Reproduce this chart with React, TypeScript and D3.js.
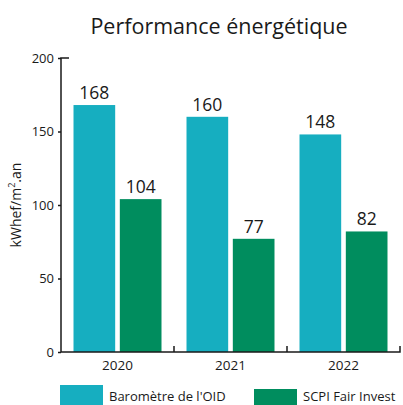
import * as React from 'react';
import { useEffect, useRef } from 'react';
import * as d3 from 'd3';

const years = ['2020', '2021', '2022'];
const oidValues = [168, 160, 148];
const fairInvestValues = [104, 77, 82];
const seriesNames = ["Baromètre de l'OID", 'SCPI Fair Invest'];
const yTicks = [0, 50, 100, 150, 200];

const TEAL = '#16AEC0';
const GREEN = '#008D5E';

const App: React.FC = () => {
  const svgRef = useRef<SVGSVGElement>(null);
  const width = 403;
  const height = 405;

  useEffect(() => {
    if (!svgRef.current) return;
    const svg = d3.select(svgRef.current);
    svg.selectAll('*').remove();

    const left = 61;
    const right = 400;
    const top = 58;
    const bottom = 352;

    const x = d3.scaleBand<string>().domain(years).range([left, right]).paddingInner(0).paddingOuter(0);
    const sub = d3.scaleBand<string>().domain(seriesNames).range([0, x.bandwidth()]).paddingInner(0.1).paddingOuter(0.27);
    const y = d3.scaleLinear().domain([0, 200]).range([bottom, top]);

    // title
    svg.append('text')
      .attr('x', 219)
      .attr('y', 34)
      .attr('text-anchor', 'middle')
      .attr('font-family', 'Open Sans, sans-serif')
      .attr('font-size', 21.5)
      .attr('fill', '#1a1a1a')
      .text('Performance énergétique');

    // bars + value labels
    const series = [oidValues, fairInvestValues];
    const colors = [TEAL, GREEN];
    series.forEach((vals, si) => {
      const g = svg.append('g');
      g.selectAll('rect')
        .data(vals)
        .enter()
        .append('rect')
        .attr('x', (_, i) => (x(years[i]) || 0) + (sub(seriesNames[si]) || 0))
        .attr('y', d => y(d))
        .attr('width', sub.bandwidth())
        .attr('height', d => bottom - y(d))
        .attr('fill', colors[si]);
      g.selectAll('text')
        .data(vals)
        .enter()
        .append('text')
        .attr('x', (_, i) => (x(years[i]) || 0) + (sub(seriesNames[si]) || 0) + sub.bandwidth() / 2)
        .attr('y', d => y(d) - 6)
        .attr('text-anchor', 'middle')
        .attr('font-family', 'Open Sans, sans-serif')
        .attr('font-size', 17.5)
        .attr('fill', '#1a1a1a')
        .text(d => String(d));
    });

    // y axis
    const yAxis = svg.append('g')
      .attr('transform', `translate(${left},0)`)
      .call(d3.axisLeft(y).tickValues(yTicks).tickSize(3).tickPadding(4));
    yAxis.select('.domain').remove();
    yAxis.selectAll('text')
      .attr('font-family', 'Open Sans, sans-serif')
      .attr('font-size', 13)
      .attr('fill', '#1a1a1a');
    yAxis.selectAll('line').attr('stroke', '#1a1a1a').attr('stroke-width', 1.5);
    // axis line with cap at top
    svg.append('path')
      .attr('d', d3.line()([[left + 8, top], [left, top], [left, bottom], [right, bottom], [right, bottom - 6]]))
      .attr('fill', 'none')
      .attr('stroke', '#1a1a1a')
      .attr('stroke-width', 1.5);

    // x axis ticks and labels
    const xg = svg.append('g');
    xg.selectAll('line')
      .data(years.slice(0, -1))
      .enter()
      .append('line')
      .attr('x1', d => (x(d) || 0) + x.bandwidth())
      .attr('x2', d => (x(d) || 0) + x.bandwidth())
      .attr('y1', bottom)
      .attr('y2', bottom - 6)
      .attr('stroke', '#1a1a1a')
      .attr('stroke-width', 1.5);
    xg.selectAll('text')
      .data(years)
      .enter()
      .append('text')
      .attr('x', d => (x(d) || 0) + x.bandwidth() / 2)
      .attr('y', 370)
      .attr('text-anchor', 'middle')
      .attr('font-family', 'Open Sans, sans-serif')
      .attr('font-size', 13.5)
      .attr('fill', '#1a1a1a')
      .text(d => d);

    // y label
    svg.append('text')
      .attr('transform', 'translate(21,205) rotate(-90)')
      .attr('text-anchor', 'middle')
      .attr('font-family', 'Open Sans, sans-serif')
      .attr('font-size', 14)
      .attr('fill', '#1a1a1a')
      .html('kWhef/m<tspan baseline-shift="super" font-size="9">2</tspan>.an');

    // legend
    const legendX = [60, 254];
    const legendY = [385, 389];
    seriesNames.forEach((name, i) => {
      svg.append('rect')
        .attr('x', legendX[i])
        .attr('y', legendY[i])
        .attr('width', 43)
        .attr('height', 30)
        .attr('fill', colors[i]);
      svg.append('text')
        .attr('x', legendX[i] + 49)
        .attr('y', 401)
        .attr('font-family', 'Open Sans, sans-serif')
        .attr('font-size', 13)
        .attr('fill', '#1a1a1a')
        .text(name);
    });
  }, []);

  return (
    <div style={{ position: 'fixed', left: 0, top: 0, width, height, background: '#fff' }}>
      <svg ref={svgRef} width={width} height={height} viewBox={`0 0 ${width} ${height}`} />
    </div>
  );
};

export default App;
